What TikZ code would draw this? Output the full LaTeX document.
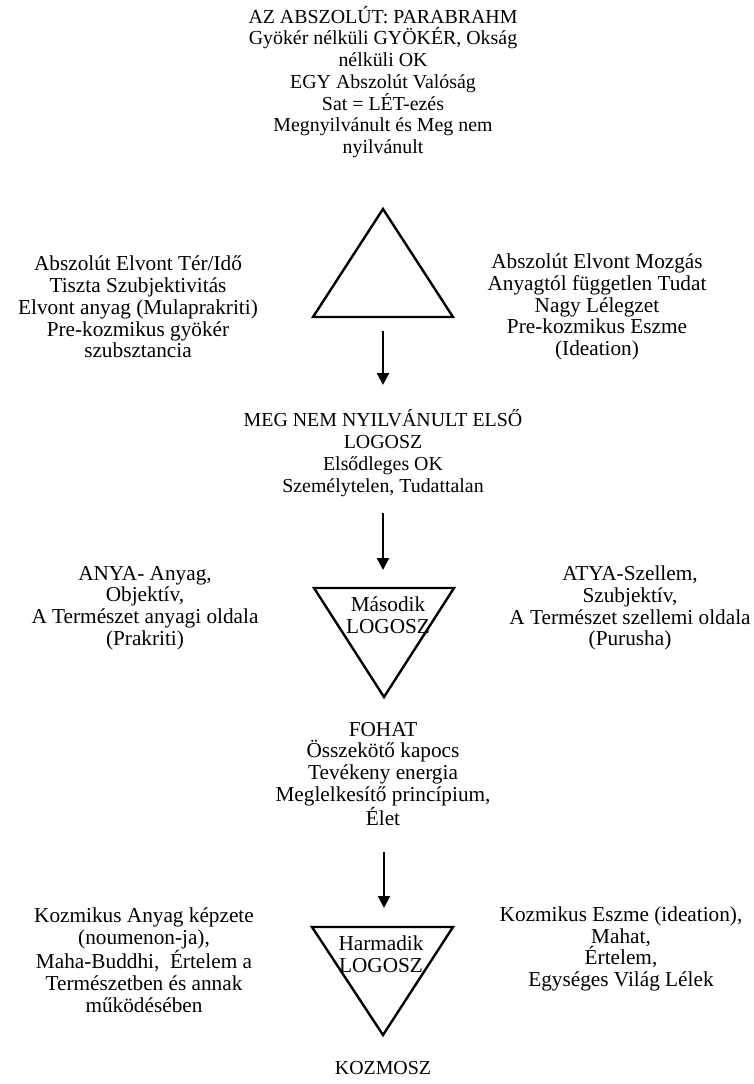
\documentclass[tikz,border=0pt]{standalone}
\usepackage{fontspec}
\setmainfont{Liberation Serif}
\usetikzlibrary{arrows.meta}
\tikzset{
	txt/.style={align=center, inner sep=0pt, font=\fontsize{11.6}{12.7}\selectfont},
	sidetxt/.style={align=center, inner sep=0pt, font=\fontsize{12.4}{12.7}\selectfont},
	tri/.style={line width=1.4pt, line join=miter},
	flow/.style={line width=1.3pt, -{Triangle[length=7pt,width=7pt]}}
}
\begin{document}
\begin{tikzpicture}[x=0.5833pt,y=-0.5833pt]
	\useasboundingbox (0,0) rectangle (754,1084);
	%Draw the absolute
	\node[txt] (abs) at (383,82) {AZ ABSZOLÚT: PARABRAHM\\Gyökér nélküli GYÖKÉR, Okság\\nélküli OK\\EGY Abszolút Valóság\\Sat = LÉT-ezés\\Megnyilvánult és Meg nem\\nyilvánult};

	%Draw first triangle
	\coordinate (top1) at (383,209);
	\draw[tri] (top1) -- (453,317) -- (313,317) -- cycle;
	\node[sidetxt] (space) at (138,307) {Abszolút Elvont Tér/Idő\\Tiszta Szubjektivitás\\Elvont anyag (Mulaprakriti)\\Pre-kozmikus gyökér\\szubsztancia};
	\node[sidetxt] (motion) at (597,307) {Abszolút Elvont Mozgás\\Anyagtól független Tudat\\Nagy Lélegzet\\Pre-kozmikus Eszme\\(Ideation)};

	%Draw first logos
	\node[txt] (logos1) at (383,453) {MEG NEM NYILVÁNULT ELSŐ\\LOGOSZ\\Elsődleges OK\\Személytelen, Tudattalan};

	%Draw second triangle
	\coordinate (top2) at (314,588);
	\draw[tri] (top2) -- (454,588) -- (384,697) -- cycle;
	\node[sidetxt] (logos2) at (388,615) {Második\\LOGOSZ};
	\node[sidetxt] (mother) at (145,608) {ANYA- Anyag,\\Objektív,\\A Természet anyagi oldala\\(Prakriti)};
	\node[sidetxt] (father) at (630,608) {ATYA-Szellem,\\Szubjektív,\\A Természet szellemi oldala\\(Purusha)};

	%Draw fohat
	\node[sidetxt] (fohat) at (383,774) {FOHAT\\Összekötő kapocs\\Tevékeny energia\\Meglelkesítő princípium,\\Élet};

	%Draw third triangle
	\coordinate (top3) at (312,927);
	\draw[tri] (top3) -- (453,927) -- (383,1035) -- cycle;
	\node[sidetxt] (logos3) at (381,954) {Harmadik\\LOGOSZ};
	\node[sidetxt] (matter) at (144,960) {Kozmikus Anyag képzete\\(noumenon-ja),\\Maha-Buddhi,~ Értelem a\\Természetben és annak\\működésében};
	\node[sidetxt] (idea) at (621,949) {Kozmikus Eszme (ideation),\\Mahat,\\Értelem,\\Egységes Világ Lélek};

	\node[txt] (kosmos) at (383,1068) {KOZMOSZ};

	%Draw arrows
	\coordinate (a1) at (383,331);
	\coordinate (b1) at (383,385);
	\coordinate (a2) at (383,513);
	\coordinate (b2) at (383,570);
	\coordinate (a3) at (384,852);
	\coordinate (b3) at (384,908);
	\draw[flow] (a1) -- (b1);
	\draw[flow] (a2) -- (b2);
	\draw[flow] (a3) -- (b3);
\end{tikzpicture}
\end{document}
